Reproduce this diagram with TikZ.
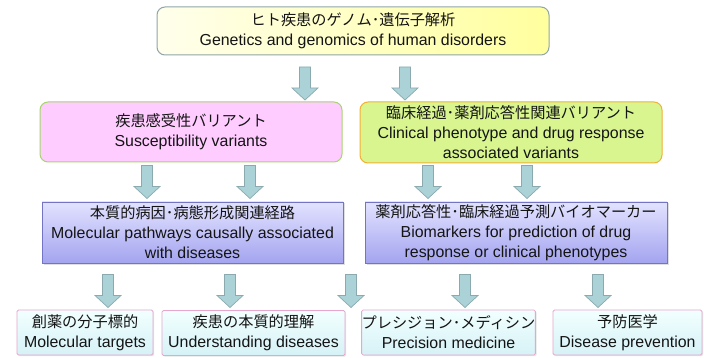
\documentclass[tikz,border=0pt]{standalone}
\usepackage{fontspec}
\setmainfont{Liberation Sans}
\newfontfamily\jp{Noto Sans CJK JP}
\usetikzlibrary{shadows}
\definecolor{topL}{HTML}{FFFFEC}
\definecolor{topR}{HTML}{FFFF9E}
\definecolor{topD}{HTML}{8FA5A8}
\definecolor{pinkF}{HTML}{FFCCFF}
\definecolor{pinkD}{HTML}{A6D46E}
\definecolor{grnF}{HTML}{D8F590}
\definecolor{grnD}{HTML}{F2B134}
\definecolor{purT}{HTML}{E2E2FF}
\definecolor{purB}{HTML}{A4A4F0}
\definecolor{purD}{HTML}{7474C4}
\definecolor{cyT}{HTML}{F2FFFF}
\definecolor{cyB}{HTML}{D6F2F6}
\definecolor{cyD}{HTML}{E6A6CE}
\definecolor{arF}{HTML}{ABD2D6}
\definecolor{arD}{HTML}{8AAAB0}
\definecolor{txt}{HTML}{141414}
\newcommand{\jl}[1]{{\fontsize{15.2}{20}\selectfont\jp #1}}
\tikzset{
  box/.style={align=center, text=txt, inner sep=0pt, font=\fontsize{15.9}{20}\selectfont, line width=1pt},
  topbox/.style={box, draw=topD, rounded corners=8pt, left color=topL, right color=topR},
  pinkbox/.style={box, draw=pinkD, rounded corners=8pt, fill=pinkF},
  grnbox/.style={box, draw=grnD, rounded corners=8pt, fill=grnF},
  purbox/.style={box, draw=purD, line width=0.8pt, top color=purT, bottom color=purB,
     drop shadow={shadow xshift=1.5pt, shadow yshift=-1.5pt, opacity=0.25}},
  cybox/.style={box, draw=cyD, line width=0.8pt, rounded corners=1.5pt, top color=cyT, bottom color=cyB,
     drop shadow={shadow xshift=1.2pt, shadow yshift=-1.2pt, opacity=0.2}},
  arrowsty/.style={fill=arF, draw=arD, line width=0.7pt, line join=miter},
  downarr/.pic={\path[arrowsty] (-5.5,0) -- (5.5,0) -- (5.5,21) -- (13,21) -- (0,33) -- (-13,21) -- (-5.5,21) -- cycle;}
}
\begin{document}
\begin{tikzpicture}[x=1pt,y=-1pt]
\useasboundingbox[fill=white] (0,0) rectangle (704,358);
\node[topbox, minimum width=392pt, minimum height=48pt] (top) at (353,31)
  {\jl{ヒト疾患のゲノム･遺伝子解析}\\Genetics and genomics of human disorders};
\node[pinkbox, minimum width=302pt, minimum height=60pt] (sus) at (191,132)
  {\jl{疾患感受性バリアント}\\Susceptibility variants};
\node[grnbox, minimum width=302pt, minimum height=61pt] (cli) at (511,132.5)
  {\jl{臨床経過･薬剤応答性関連バリアント}\\Clinical phenotype and drug response\\associated variants};
\node[purbox, minimum width=301pt, minimum height=61pt] (mol) at (192.5,232.5)
  {\jl{本質的病因･病態形成関連経路}\\Molecular pathways causally associated\\with diseases};
\node[purbox, minimum width=302pt, minimum height=61pt] (bio) at (516,232.5)
  {\jl{薬剤応答性･臨床経過予測バイオマーカー}\\Biomarkers for prediction of drug\\response or clinical phenotypes};
\node[cybox, minimum width=136pt, minimum height=45pt] (tgt) at (85,332.5)
  {\jl{創薬の分子標的}\\Molecular targets};
\node[cybox, minimum width=183pt, minimum height=45pt] (und) at (253.5,333)
  {\jl{疾患の本質的理解}\\Understanding diseases};
\node[cybox, minimum width=167pt, minimum height=45pt] (pre) at (448.5,332.5)
  {\jl{プレシジョン･メディシン}\\Precision medicine};
\node[cybox, minimum width=149pt, minimum height=45pt] (prv) at (627.5,332.5)
  {\jl{予防医学}\\Disease prevention};
% block arrows
\pic at (305,67) {downarr};
\pic at (405,67) {downarr};
\pic at (147,165.5) {downarr};
\pic at (250,165.5) {downarr};
\pic at (428,165.5) {downarr};
\pic at (527,165.5) {downarr};
\pic at (108,274.5) {downarr};
\pic at (230,274.5) {downarr};
\pic at (351,274.5) {downarr};
\pic at (465,274.5) {downarr};
\pic at (598,274.5) {downarr};
\end{tikzpicture}
\end{document}
